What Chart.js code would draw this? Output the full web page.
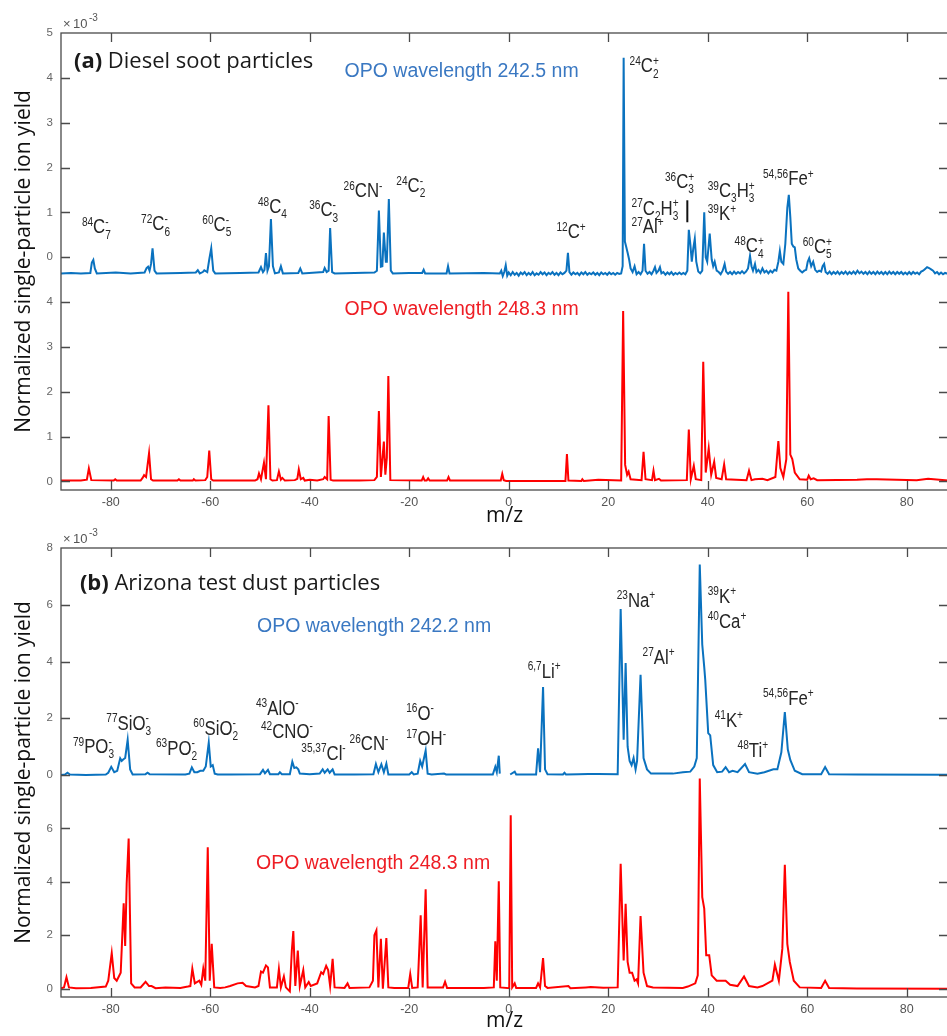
<!DOCTYPE html>
<html>
<head>
<meta charset="utf-8">
<script src="https://cdn.jsdelivr.net/npm/chart.js@4.4.0/dist/chart.umd.min.js"></script>
<style>
  html, body { margin: 0; padding: 0; background: #fff; overflow: hidden; width: 947px; height: 1036px; }
  .panel { position: absolute; left: 0; width: 960px; }
  #pa { top: 0; height: 530px; }
  #pb { top: 516px; height: 520px; }
</style>
</head>
<body>
<div class="panel" id="pa"><canvas id="chartA"></canvas></div>
<div class="panel" id="pb"><canvas id="chartB"></canvas></div>
<script>
'use strict'

// ---- data: [m/z, ion yield (x10^-3)] ----
const dieselBlue = [
  [-90,-0.36],[-88,-0.35],[-86,-0.36],[-84.1,-0.35],[-83.8,-0.12],[-83.5,-0.06],[-83.2,-0.25],[-82.8,-0.36],
  [-79,-0.34],[-76,-0.36],[-73.2,-0.34],[-72.8,-0.24],[-72.5,-0.21],[-72.2,-0.3],[-71.9,-0.15],[-71.6,0.2],[-71.2,-0.3],[-70.8,-0.36],
  [-66,-0.35],[-62.9,-0.34],[-62.5,-0.29],[-62.1,-0.36],[-61.5,-0.33],[-61.2,-0.29],[-60.6,-0.33],[-60.2,-0.05],[-59.8,0.2],[-59.4,-0.3],[-59,-0.36],
  [-54,-0.35],[-50.3,-0.34],[-49.8,-0.22],[-49.4,-0.33],[-49.1,-0.28],[-48.8,0.09],[-48.5,-0.3],[-48.2,-0.2],[-47.8,0.85],[-47.4,-0.2],[-47,-0.36],
  [-46.2,-0.34],[-45.8,-0.2],[-45.4,-0.36],[-42.3,-0.35],[-41.9,-0.25],[-41.5,-0.36],
  [-37.3,-0.33],[-37,-0.24],[-36.6,-0.33],[-36.2,-0.3],[-35.9,0.65],[-35.5,-0.33],[-35,-0.36],
  [-31,-0.35],[-27,-0.34],[-26.5,-0.3],[-26.1,1.04],[-25.7,-0.21],[-25.4,-0.2],[-25.1,0.55],[-24.7,-0.1],[-24.5,-0.1],[-24.1,1.3],[-23.7,-0.3],[-23.3,-0.36],
  [-20,-0.35],[-17.4,-0.35],[-17.1,-0.28],[-16.8,-0.36],[-12.5,-0.36],[-12.2,-0.2],[-11.9,-0.36],[-5,-0.35],[-1.8,-0.36],
  [-1.5,-0.30],[-1.2,-0.42],[-0.9,-0.33],[-0.6,-0.18],[-0.3,-0.41],[0,-0.34],[0.4,-0.40],[0.8,-0.33],[1.2,-0.39],[1.6,-0.35],
  [2.0,-0.41],[2.4,-0.34],[2.8,-0.38],[3.2,-0.33],[3.6,-0.40],[4.0,-0.35],[4.4,-0.39],[4.8,-0.33],[5.2,-0.40],[5.6,-0.36],
  [6.0,-0.39],[6.4,-0.33],[6.8,-0.38],[7.2,-0.34],[7.6,-0.40],[8.0,-0.35],[8.4,-0.38],[8.8,-0.33],[9.2,-0.39],[9.6,-0.35],
  [10.0,-0.40],[10.4,-0.34],[10.8,-0.38],[11.2,-0.35],[11.6,-0.30],[11.9,0.10],[12.2,-0.33],[12.6,-0.39],[13.0,-0.34],[13.4,-0.38],
  [13.8,-0.35],[14.2,-0.40],[14.6,-0.34],[15.0,-0.38],[15.4,-0.33],[15.8,-0.39],[16.2,-0.35],[16.6,-0.38],[17.0,-0.34],[17.4,-0.39],
  [17.8,-0.35],[18.2,-0.40],[18.6,-0.34],[19.0,-0.38],[19.4,-0.35],[19.8,-0.39],[20.2,-0.34],[20.6,-0.38],[21.0,-0.35],[21.4,-0.39],
  [21.8,-0.35],[22.2,-0.37],[22.6,-0.36],[22.9,-0.2],[23.1,4.45],[23.35,0.35],[23.6,0.24],[23.9,0.1],[24.2,-0.05],[24.5,-0.25],
  [24.9,-0.33],[25.3,-0.2],[25.7,-0.38],[26.1,-0.33],[26.5,-0.38],[26.9,-0.3],[27.2,0.3],[27.5,-0.3],[27.9,-0.37],[28.3,-0.33],
  [28.7,-0.38],[29.1,-0.3],[29.4,-0.22],[29.7,-0.35],[30.1,-0.3],[30.4,-0.22],[30.7,-0.36],[31.1,-0.33],[31.5,-0.39],[31.9,-0.34],
  [32.3,-0.38],[32.7,-0.33],[33.1,-0.39],[33.5,-0.35],[33.9,-0.38],[34.3,-0.34],[34.7,-0.38],[35.1,-0.35],[35.5,-0.38],[35.9,-0.3],
  [36.2,0.61],[36.5,0.3],[36.8,-0.1],[37.1,0.2],[37.4,0.41],[37.7,-0.1],[38.1,-0.32],[38.5,-0.36],[38.9,-0.3],[39.3,1.0],
  [39.6,0.0],[39.9,-0.1],[40.4,0.53],[40.8,-0.05],[41.1,-0.2],[41.4,-0.1],[41.8,-0.3],[42.2,-0.33],[42.6,-0.38],[43.0,-0.3],
  [43.4,-0.15],[43.7,-0.32],[44.1,-0.37],[44.5,-0.33],[44.9,-0.38],[45.3,-0.32],[45.7,-0.37],[46.1,-0.33],[46.5,-0.36],[46.9,-0.31],
  [47.3,-0.36],[47.7,-0.32],[48.1,-0.25],[48.5,0.03],[48.8,-0.2],[49.1,-0.3],[49.5,-0.15],[49.8,-0.33],[50.2,-0.28],[50.6,-0.35],
  [51.0,-0.25],[51.4,-0.34],[51.8,-0.3],[52.2,-0.36],[52.6,-0.3],[53.0,-0.34],[53.4,-0.28],[53.8,-0.3],[54.2,-0.1],[54.5,0.14],
  [54.8,-0.1],[55.2,-0.15],[55.6,0.3],[56.0,1.1],[56.3,1.39],[56.6,0.9],[56.9,0.3],[57.2,0.24],[57.5,0.22],[57.8,-0.05],
  [58.2,-0.25],[58.6,-0.3],[59.0,-0.34],[59.4,-0.3],[59.8,-0.28],[60.1,-0.1],[60.4,-0.02],[60.8,-0.2],[61.2,-0.1],[61.6,-0.28],
  [62.0,-0.33],[62.4,-0.3],[62.8,-0.32],[63.1,-0.2],[63.4,-0.15],[63.7,-0.33],[64.1,-0.37],[64.5,-0.32],[64.9,-0.38],[65.3,-0.33],
  [65.7,-0.37],[66.1,-0.32],[66.5,-0.38],[66.9,-0.33],[67.3,-0.37],[67.7,-0.32],[68.1,-0.38],[68.5,-0.33],[68.9,-0.37],[69.3,-0.32],
  [69.7,-0.37],[70.1,-0.30],[70.5,-0.36],[70.9,-0.32],[71.3,-0.37],[71.7,-0.33],[72.1,-0.38],[72.5,-0.32],[72.9,-0.37],[73.3,-0.33],
  [73.7,-0.38],[74.1,-0.32],[74.5,-0.37],[74.9,-0.33],[75.3,-0.38],[75.7,-0.33],[76.1,-0.38],[76.5,-0.32],[76.9,-0.37],[77.3,-0.33],
  [77.7,-0.38],[78.1,-0.33],[78.5,-0.37],[78.9,-0.33],[79.3,-0.38],[79.7,-0.34],[80.1,-0.38],[80.5,-0.33],[80.9,-0.38],[81.3,-0.33],
  [81.7,-0.37],[82.1,-0.34],[82.5,-0.38],[82.9,-0.32],[83.3,-0.3],[83.7,-0.26],[84.1,-0.22],[84.5,-0.24],[84.9,-0.27],[85.3,-0.3],
  [85.7,-0.36],[86.1,-0.33],[86.5,-0.38],[86.9,-0.34],[87.3,-0.38],[87.7,-0.35],[88.3,-0.37]
];

const dieselRed = [
  [-90,0.02],[-86,0.02],[-84.8,0.04],[-84.4,0.29],[-83.9,0.03],[-79.4,0.02],[-79.1,0.05],[-78.8,0.02],
  [-74,0.02],[-73.6,0.08],[-73.3,0.14],[-72.9,0.1],[-72.3,0.63],[-71.9,0.05],[-71.5,0.02],
  [-66.6,0.02],[-66.3,0.05],[-66,0.02],[-63.5,0.02],[-63.3,0.05],[-63,0.02],
  [-61,0.03],[-60.6,0.1],[-60.2,0.69],[-59.8,0.05],[-59.4,0.02],
  [-51,0.02],[-50.5,0.05],[-50.2,0.18],[-49.8,0.05],[-49.2,0.42],[-48.8,0.05],[-48.3,1.7],[-47.9,0.05],[-47.5,0.02],
  [-46.6,0.03],[-46.2,0.22],[-45.8,0.04],[-45.5,0.08],[-45,0.02],[-43,0.03],[-42.5,0.06],[-42.2,0.27],[-41.8,0.05],[-41.3,0.08],[-41,0.02],
  [-40,0.04],[-38.5,0.02],[-37.3,0.05],[-37,0.1],[-36.5,0.05],[-36.2,1.46],[-35.8,0.04],[-35.3,0.02],
  [-30,0.02],[-27,0.03],[-26.5,0.1],[-26.1,1.57],[-25.7,0.1],[-25.1,0.89],[-24.8,0.15],[-24.5,0.53],[-24.2,2.35],[-23.8,0.03],
  [-17.5,0.02],[-17.2,0.1],[-16.9,0.02],[-16.5,0.02],[-16.2,0.07],[-15.9,0.02],[-12.4,0.02],[-12.1,0.1],[-11.8,0.02],
  [-1.6,0.02],[-1.3,0.17],[-1.0,0.03],[-0.5,0.01],[11.4,0.01],[11.7,0.61],[12.0,0.02],
  [14.6,0.01],[14.8,0.05],[15.1,0.01],[18,0.04],[22.6,0.02],[23.0,3.8],[23.4,0.37],[23.8,0.15],[24.1,0.22],[24.5,0.05],
  [26.7,0.03],[27.1,0.66],[27.5,0.05],[28.8,0.03],[29.1,0.24],[29.4,0.03],[30.2,0.06],[30.6,0.02],
  [35.8,0.03],[36.2,1.16],[36.6,0.05],[37.2,0.35],[37.6,0.05],[38.7,0.03],[39.1,2.67],[39.6,0.2],[40.2,0.74],[40.7,0.15],
  [41.3,0.44],[41.7,0.08],[42.8,0.05],[43.3,0.38],[43.7,0.05],[47.8,0.03],[48.3,0.24],[48.8,0.03],[49.5,0.05],[51,0.06],[52,0.03],
  [53.6,0.1],[54.2,0.9],[54.6,0.3],[55.2,0.1],[55.8,0.5],[56.2,4.23],[56.6,0.6],[57,0.5],[57.5,0.2],[58.5,0.05],
  [60,0.04],[60.3,0.13],[60.7,0.05],[61.3,0.07],[62,0.03],[70,0.04],[72,0.05],[74,0.05],[78,0.04],[82,0.03],[84.3,0.06],[88.3,0.02]
];

const dustBlue = [
  [-90,0.0],[-89.2,0.02],[-88.7,0.08],[-88.2,0.02],[-85,0.0],
  [-81,0.02],[-80.5,0.08],[-79.9,0.29],[-79.3,0.1],[-78.7,0.15],[-78.1,0.59],[-77.8,0.5],[-77.5,0.55],[-77.1,0.6],[-76.6,1.24],[-76.1,0.2],[-75.6,0.02],
  [-73,0.03],[-72.6,0.08],[-72.2,0.03],[-65,0.02],[-64.2,0.05],[-63.7,0.27],[-63.2,0.1],[-62.6,0.1],[-62,0.15],[-61.4,0.15],
  [-60.9,0.3],[-60.3,1.14],[-59.9,0.3],[-59.5,0.35],[-59.1,0.05],[-58.5,0.02],
  [-56,0.02],[-50,0.03],[-49.4,0.18],[-49.0,0.06],[-48.4,0.18],[-48,0.03],[-46.3,0.03],[-46,0.1],[-45.6,0.03],
  [-44,0.03],[-43.5,0.47],[-43.1,0.25],[-42.7,0.27],[-42.3,0.2],[-42.0,0.05],
  [-40,0.03],[-38,0.05],[-37.4,0.2],[-37,0.08],[-36.4,0.2],[-36,0.08],[-35.4,0.2],[-35,0.02],
  [-31,0.02],[-27.2,0.03],[-26.7,0.39],[-26.2,0.1],[-25.6,0.38],[-25.1,0.1],[-24.6,0.4],[-24.2,0.02],
  [-20,0.02],[-19.5,0.1],[-19.1,0.02],[-18.3,0.05],[-17.8,0.5],[-17.4,0.3],[-16.7,0.86],[-16.3,0.05],[-15.5,0.02],[-13,0.05],[-12.6,0.02],
  [-3.2,0.02],[-2.7,0.29],[-2.4,0.1],[-2.0,0.68],[-1.8,0.05],[-0.8,null],
  [0.3,0.02],[1.2,0.12],[1.5,0.02],[5.5,0.02],[5.9,0.94],[6.3,0.1],[6.9,3.1],[7.3,0.2],[7.8,0.03],
  [10.9,0.02],[11.2,0.08],[11.5,0.02],[14,0.03],[16,0.04],[18,0.04],[21.9,0.03],[22.5,5.85],[23.1,1.24],[23.5,3.95],[23.9,1.0],
  [24.3,0.5],[24.7,0.35],[25.1,0.6],[25.5,0.2],[25.8,0.5],[26.5,3.53],[27.1,0.6],[27.8,0.2],[28.6,0.05],
  [33,0.05],[35,0.1],[36.5,0.12],[37.3,0.3],[37.8,0.6],[38.4,7.42],[38.9,4.6],[39.3,3.8],[39.5,3.36],[40.1,1.48],[40.5,1.4],
  [41.1,0.35],[41.9,0.1],[42.9,0.12],[43.6,0.28],[44.3,0.1],[45,0.15],[46,0.1],[47.5,0.39],[48.3,0.1],[50,0.05],[51.4,0.1],
  [53.2,0.2],[54,0.2],[54.8,0.8],[55.5,2.22],[56.1,0.9],[56.6,0.53],[57.5,0.15],[59,0.03],
  [62.8,0.03],[63.6,0.28],[64.4,0.03],[70,0.02],[88.3,0.01]
];

const dustRed = [
  [-90,0.02],[-89.4,0.05],[-88.9,0.43],[-88.4,0.05],[-87,0.02],[-84,0.03],[-81,0.08],[-80.5,0.3],[-79.8,1.33],[-79.3,0.4],
  [-78.8,0.3],[-78.4,0.45],[-78,0.6],[-77.4,3.2],[-77.1,1.6],[-76.8,3.93],[-76.4,5.62],[-75.9,0.2],[-75.2,0.05],
  [-74,0.05],[-73,0.26],[-72.3,0.1],[-71.8,0.1],[-71,0.02],[-69,0.05],[-66,0.03],[-64.5,0.08],
  [-64,0.1],[-63.6,0.75],[-63.1,0.2],[-62.2,0.3],[-61.8,0.15],[-61.4,0.75],[-61,0.3],[-60.5,5.3],[-60.1,0.3],[-59.7,1.68],[-59.2,0.05],[-58,0.03],
  [-57,0.05],[-56,0.1],[-54.5,0.2],[-53.5,0.22],[-52.8,0.1],[-51,0.05],
  [-50.3,0.1],[-49.8,0.64],[-49.4,0.6],[-48.8,0.87],[-48.4,0.8],[-48,0.05],[-46.6,0.05],[-46.2,0.74],[-45.8,0.05],[-45.2,0.46],[-44.8,0.05],
  [-44,-0.1],[-43.6,1.43],[-43.3,2.16],[-42.9,0.1],[-42.4,1.43],[-42.0,0.1],[-41.3,0.7],[-40.9,0.05],[-40.2,0.25],[-39.8,0.1],
  [-38.5,0.2],[-37.7,0.62],[-37.3,0.55],[-36.7,0.86],[-36.3,0.7],[-35.9,0.1],[-35.4,1.12],[-35.0,0.05],
  [-33,0.03],[-32.4,0.2],[-32,0.03],[-28,0.05],[-27.3,0.3],[-27.0,2.0],[-26.6,2.18],[-26.2,0.05],[-25.7,1.87],[-25.3,0.0],[-24.6,1.9],[-24.2,0.05],[-23,0.03],
  [-20.2,0.03],[-19.8,0.55],[-19.4,0.03],[-18.3,0.05],[-17.7,2.75],[-17.3,0.05],[-16.7,3.72],[-16.3,0.05],[-15,0.05],[-13.2,0.05],[-12.8,0.26],[-12.4,0.03],
  [-5,0.03],[-3.0,0.05],[-2.7,1.78],[-2.4,0.3],[-2.0,4.02],[-1.7,0.05],
  [0.1,0.02],[0.4,6.49],[0.7,0.05],[1.2,0.2],[1.5,0.03],[5.5,0.03],[5.9,0.2],[6.3,0.05],[6.9,1.15],[7.3,0.1],[7.8,0.03],
  [12,0.1],[12.4,0.02],[15.5,0.05],[16.5,0.06],[19,0.04],[21.9,0.05],[22.5,4.68],[23.1,1.06],[23.5,3.18],[23.9,1.0],[24.3,0.6],
  [24.8,0.6],[25.3,0.3],[25.7,0.35],[26.0,0.2],[26.5,2.72],[27.1,0.6],[27.8,0.1],[29,0.05],
  [35,0.03],[36,0.08],[37.5,0.2],[38.0,0.5],[38.4,7.87],[38.9,3.43],[39.3,3.0],[39.7,1.25],[40.3,1.25],[40.8,0.5],[41.8,0.3],
  [43.6,0.3],[44.5,0.15],[46,0.1],[47.3,0.46],[48.3,0.1],[50,0.05],[51,0.1],[53,0.3],[53.5,0.9],[54.3,0.3],[55.0,1.5],
  [55.5,4.64],[56.0,1.68],[56.5,1.0],[57.3,0.3],[58.5,0.05],[62.8,0.03],[63.6,0.3],[64.4,0.03],[70,0.01],[88.3,0.0]
];

// tick labels (per stacked spectrum)
const dieselRedTicks = [0, 1, 2, 3, 4];
const dieselBlueTicks = [0, 1, 2, 3, 4, 5];
const dustRedTicks = [0, 2, 4, 6];
const dustBlueTicks = [0, 2, 4, 6, 8];
const mzTicks = [-80, -60, -40, -20, 0, 20, 40, 60, 80];

// peak labels: markup, m/z, axis value
const dieselLabels = ['^{84}C_{7}^{-}', '^{72}C_{6}^{-}', '^{60}C_{5}^{-}', '^{48}C_{4}', '^{36}C_{3}^{-}', '^{26}CN^{-}', '^{24}C_{2}^{-}',
  '^{12}C^{+}', '^{24}C_{2}^{+}', '^{27}C_{2}H_{3}^{+}', '^{27}Al^{+}', '^{36}C_{3}^{+}', '^{39}C_{3}H_{3}^{+}', '^{39}K^{+}',
  '^{54,56}Fe^{+}', '^{48}C_{4}^{+}', '^{60}C_{5}^{+}'];
const dieselLabelMz = [-85.8, -73.9, -61.6, -50.4, -40.1, -33.2, -22.6, 9.6, 24.3, 24.7, 24.7, 31.4, 40.0, 40.0, 51.1, 45.4, 59.1];
const dieselLabelY = [5.53, 5.60, 5.58, 5.98, 5.91, 6.34, 6.45, 5.42, 9.12, 5.94, 5.53, 6.54, 6.34, 5.82, 6.60, 5.11, 5.09];

const dustLabels = ['^{79}PO_{3}^{-}', '^{77}SiO_{3}^{-}', '^{63}PO_{2}^{-}', '^{60}SiO_{2}^{-}', '^{43}AlO^{-}', '^{42}CNO^{-}',
  '^{35,37}Cl^{-}', '^{26}CN^{-}', '^{16}O^{-}', '^{17}OH^{-}', '^{6,7}Li^{+}', '^{23}Na^{+}', '^{27}Al^{+}', '^{39}K^{+}',
  '^{40}Ca^{+}', '^{41}K^{+}', '^{48}Ti^{+}', '^{54,56}Fe^{+}'];
const dustLabelMz = [-87.6, -80.9, -70.9, -63.4, -50.8, -49.8, -41.7, -32.0, -20.6, -20.6, 3.8, 21.7, 26.9, 40.0, 40.0, 41.4, 46.0, 51.1];
const dustLabelY = [8.82, 9.69, 8.75, 9.50, 10.25, 9.39, 8.56, 8.93, 10.06, 9.12, 11.63, 14.30, 12.16, 14.45, 13.51, 9.80, 8.68, 10.63];

const BLUE = '#0a72bf';
const RED = '#ff0000';
const BLUE_TEXT = '#3a78c2';
const RED_TEXT = '#ee1d24';
const AXIS = '#4a4a4a';

function richText(ctx, x, y, str, size, color) {
  ctx.save();
  ctx.translate(x, y);
  ctx.scale(0.84, 1);
  ctx.fillStyle = color;
  ctx.textBaseline = 'alphabetic';
  ctx.textAlign = 'left';
  const small = Math.round(size * 0.62);
  const re = /\^\{([^}]*)\}|_\{([^}]*)\}|([^^_]+)/g;
  let cx = 0, prev = '', lastStart = 0, m;
  while ((m = re.exec(str))) {
    if (m[3] !== undefined) {
      ctx.font = size + 'px "Liberation Sans", Arial, sans-serif';
      ctx.fillText(m[3], cx, 0);
      cx += ctx.measureText(m[3]).width;
      prev = 'n';
    } else {
      const sup = m[1] !== undefined;
      const t = sup ? m[1] : m[2];
      ctx.font = small + 'px "Liberation Sans", Arial, sans-serif';
      let sx = cx;
      if ((prev === 'sub' && sup) || (prev === 'sup' && !sup)) sx = lastStart;
      ctx.fillText(t, sx, sup ? -size * 0.38 : size * 0.26);
      lastStart = sx;
      cx = Math.max(cx, sx + ctx.measureText(t).width);
      prev = sup ? 'sup' : 'sub';
    }
  }
  ctx.restore();
}

const decor = {
  id: 'decor',
  afterDatasetsDraw(chart, args, o) {
    const {ctx, chartArea: a, scales: {x, y}} = chart;
    ctx.save();
    // frame + inward ticks
    ctx.strokeStyle = AXIS;
    ctx.lineWidth = 1.3;
    ctx.strokeRect(a.left, a.top, a.right - a.left, a.bottom - a.top);
    ctx.beginPath();
    y.ticks.forEach(t => {
      const py = Math.round(y.getPixelForValue(t.value)) + 0.5;
      if (py <= a.top + 1 || py >= a.bottom - 1) return;
      ctx.moveTo(a.left, py); ctx.lineTo(a.left + 9, py);
      ctx.moveTo(a.right, py); ctx.lineTo(a.right - 9, py);
    });
    x.ticks.forEach(t => {
      const px = Math.round(x.getPixelForValue(t.value)) + 0.5;
      ctx.moveTo(px, a.bottom); ctx.lineTo(px, a.bottom - 9);
      ctx.moveTo(px, a.top); ctx.lineTo(px, a.top + 9);
    });
    ctx.stroke();

    // x10^-3
    ctx.fillStyle = '#555';
    ctx.textBaseline = 'alphabetic';
    ctx.font = '13px "Liberation Sans", Arial, sans-serif';
    ctx.fillText('\u00d7', a.left + 2, a.top - 5);
    ctx.fillText('10', a.left + 12, a.top - 5);
    ctx.font = '10px "Liberation Sans", Arial, sans-serif';
    ctx.fillText('-3', a.left + 28, a.top - 12);

    // peak labels
    o.labels.forEach((s, i) => {
      richText(ctx, x.getPixelForValue(o.labelMz[i]), y.getPixelForValue(o.labelY[i]), s, 20, '#262626');
    });
    if (o.bar) {
      const bx = x.getPixelForValue(o.bar[0]);
      ctx.strokeStyle = '#111';
      ctx.lineWidth = 2;
      ctx.beginPath();
      ctx.moveTo(bx, y.getPixelForValue(o.bar[1]));
      ctx.lineTo(bx, y.getPixelForValue(o.bar[2]));
      ctx.stroke();
    }

    // panel title
    const tx = x.getPixelForValue(o.title[0]), ty = y.getPixelForValue(o.title[1]);
    ctx.fillStyle = '#1a1a1a';
    ctx.font = 'bold 22px "Open Sans", sans-serif';
    ctx.fillText(o.title[2], tx, ty);
    const w = ctx.measureText(o.title[2]).width;
    ctx.font = '22px "Open Sans", sans-serif';
    ctx.fillText(' ' + o.title[3], tx + w, ty);

    // wavelength notes
    ctx.font = '19.5px "Liberation Sans", Arial, sans-serif';
    o.notes.forEach(n => {
      ctx.fillStyle = n[3];
      ctx.fillText(n[2], x.getPixelForValue(n[0]), y.getPixelForValue(n[1]));
    });
    ctx.restore();
  }
};

function lineSet(points, color, mapY) {
  return {
    data: points.map(p => ({x: p[0], y: p[1] === null ? null : mapY(p[1])})),
    borderColor: color,
    borderWidth: 2,
    pointRadius: 0,
    tension: 0,
    spanGaps: false,
    fill: false
  };
}

function makeChart(id, cfg) {
  return new Chart(document.getElementById(id), {
    type: 'line',
    data: {datasets: cfg.datasets},
    options: {
      responsive: true,
      maintainAspectRatio: false,
      animation: false,
      events: [],
      layout: {padding: {top: cfg.padTop, right: 12, left: 0, bottom: 0}},
      plugins: {legend: {display: false}, tooltip: {enabled: false}, decor: cfg.decor},
      scales: {
        x: {
          type: 'linear', min: -90, max: 88.3,
          afterBuildTicks: s => { s.ticks = mzTicks.map(v => ({value: v})); },
          afterFit: s => { s.height = cfg.xHeight; },
          grid: {display: false, drawTicks: false},
          border: {display: false},
          ticks: {padding: 5, color: '#555', font: {family: '"Liberation Sans", Arial, sans-serif', size: 12.5}},
          title: {display: true, text: 'm/z', color: '#111', padding: {top: 0, bottom: cfg.xTitlePad},
            font: {family: '"Open Sans", sans-serif', size: 21, lineHeight: 1}}
        },
        y: {
          type: 'linear', min: cfg.yMin, max: cfg.yMax,
          afterBuildTicks: s => { s.ticks = cfg.yTickValues.map(v => ({value: v})); },
          afterFit: s => { s.width = 61; },
          grid: {display: false, drawTicks: false},
          border: {display: false},
          ticks: {padding: 8, color: '#666', font: {family: '"Liberation Sans", Arial, sans-serif', size: 11.5},
            callback: (v, i) => String(cfg.yTickText[i])},
          title: {display: true, text: 'Normalized single-particle ion yield', color: '#111', padding: {top: 14, bottom: 0},
            font: {family: '"Open Sans", sans-serif', size: 21, lineHeight: 1}}
        }
      }
    },
    plugins: [decor]
  });
}

// panel (a): blue spectrum stacked 5 units above red
const DIESEL_OFFSET = 5;
makeChart('chartA', {
  datasets: [
    lineSet(dieselRed, RED, v => v),
    lineSet(dieselBlue, BLUE, v => v + DIESEL_OFFSET)
  ],
  padTop: 33, xHeight: 40, xTitlePad: 3, yMin: -0.19, yMax: 10,
  yTickValues: dieselRedTicks.concat(dieselBlueTicks.map(v => v + DIESEL_OFFSET)),
  yTickText: dieselRedTicks.concat(dieselBlueTicks),
  decor: {
    labels: dieselLabels, labelMz: dieselLabelMz, labelY: dieselLabelY,
    bar: [35.9, 6.27, 5.78],
    title: [-87.4, 9.22, '(a)', 'Diesel soot particles'],
    notes: [[-33.0, 9.01, 'OPO wavelength 242.5 nm', BLUE_TEXT], [-33.0, 3.71, 'OPO wavelength 248.3 nm', RED_TEXT]]
  }
});

// panel (b): blue spectrum stacked 8 units above red, drawn on a slightly larger unit
const DUST_OFFSET = 8;
const DUST_SCALE = 1.0625;
makeChart('chartB', {
  datasets: [
    lineSet(dustRed, RED, v => v),
    lineSet(dustBlue, BLUE, v => DUST_OFFSET + v * DUST_SCALE)
  ],
  padTop: 32, xHeight: 39, xTitlePad: 4, yMin: -0.31, yMax: 16.5,
  yTickValues: dustRedTicks.concat(dustBlueTicks.map(v => DUST_OFFSET + v * DUST_SCALE)),
  yTickText: dustRedTicks.concat(dustBlueTicks),
  decor: {
    labels: dustLabels, labelMz: dustLabelMz, labelY: dustLabelY,
    bar: null,
    title: [-86.2, 14.92, '(b)', 'Arizona test dust particles'],
    notes: [[-50.6, 13.36, 'OPO wavelength 242.2 nm', BLUE_TEXT], [-50.8, 4.48, 'OPO wavelength 248.3 nm', RED_TEXT]]
  }
});
</script>
</body>
</html>
